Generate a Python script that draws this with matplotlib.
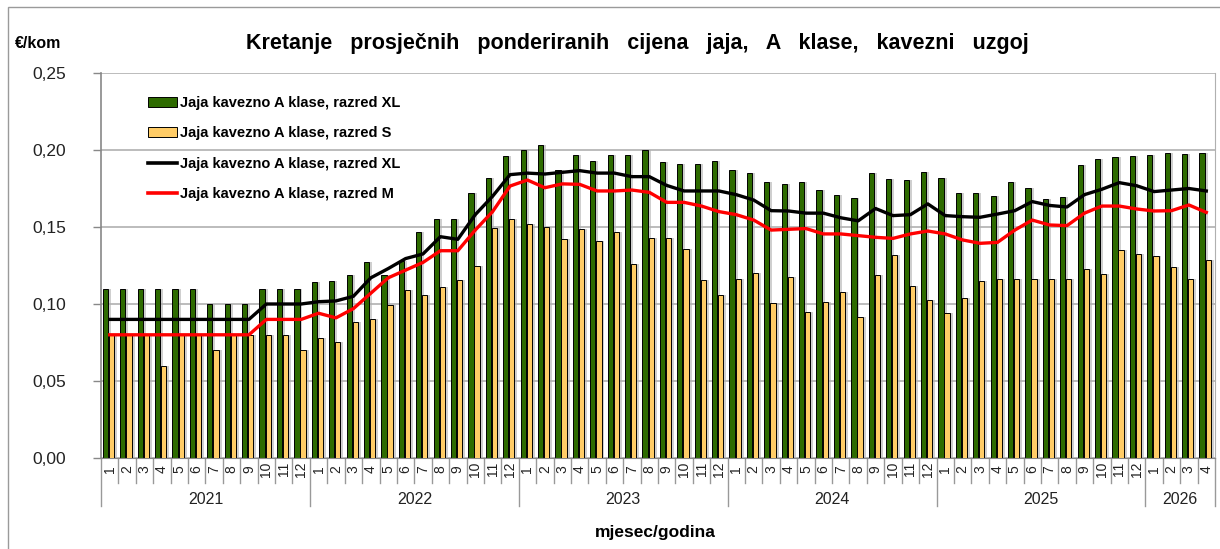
import matplotlib
matplotlib.use("Agg")
import matplotlib.pyplot as plt
from matplotlib.patches import Patch, Rectangle
from matplotlib.lines import Line2D
from matplotlib.ticker import FuncFormatter, MultipleLocator
import matplotlib.transforms as mtransforms
import numpy as np

plt.rcParams['font.family'] = ['Liberation Sans', 'DejaVu Sans']

years = ["2021", "2022", "2023", "2024", "2025", "2026"]
months_per_year = [12, 12, 12, 12, 12, 4]

xl_bars = [0.11, 0.11, 0.11, 0.11, 0.11, 0.11, 0.10, 0.10, 0.10, 0.11, 0.11, 0.11,
           0.1145, 0.115, 0.119, 0.1275, 0.119, 0.128, 0.147, 0.155, 0.155, 0.172, 0.182, 0.196,
           0.200, 0.203, 0.187, 0.197, 0.193, 0.197, 0.197, 0.200, 0.192, 0.191, 0.191, 0.193,
           0.187, 0.185, 0.179, 0.178, 0.179, 0.174, 0.171, 0.169, 0.185, 0.181, 0.1805, 0.1855,
           0.182, 0.172, 0.172, 0.170, 0.179, 0.1755, 0.168, 0.1695, 0.1905, 0.1944, 0.1952, 0.1963,
           0.1968, 0.198, 0.1974, 0.198]

s_bars = [0.08, 0.08, 0.08, 0.06, 0.08, 0.08, 0.07, 0.08, 0.08, 0.08, 0.08, 0.07,
          0.078, 0.0755, 0.088, 0.0905, 0.0995, 0.109, 0.106, 0.111, 0.1156, 0.125, 0.1496, 0.155,
          0.152, 0.150, 0.142, 0.1485, 0.141, 0.147, 0.126, 0.143, 0.1426, 0.136, 0.1156, 0.106,
          0.116, 0.1203, 0.1004, 0.1173, 0.095, 0.101, 0.108, 0.0913, 0.1188, 0.1316, 0.112, 0.1028,
          0.094, 0.1037, 0.115, 0.1165, 0.1165, 0.116, 0.116, 0.116, 0.1225, 0.1195, 0.135, 0.1327,
          0.131, 0.124, 0.116, 0.1288]

xl_line = [0.09, 0.09, 0.09, 0.09, 0.09, 0.09, 0.09, 0.09, 0.09, 0.10, 0.10, 0.10,
           0.1015, 0.102, 0.105, 0.117, 0.123, 0.1295, 0.1325, 0.1437, 0.142, 0.158, 0.170, 0.184,
           0.185, 0.1844, 0.1855, 0.1866, 0.185, 0.185, 0.1827, 0.1827, 0.177, 0.1734, 0.1734, 0.1734,
           0.171, 0.1675, 0.1606, 0.1604, 0.159, 0.159, 0.156, 0.154, 0.162, 0.1574, 0.158, 0.165,
           0.1574, 0.1567, 0.1563, 0.1584, 0.1606, 0.1665, 0.164, 0.163, 0.171, 0.1745, 0.1788, 0.1768,
           0.173, 0.174, 0.175, 0.1734]

m_line = [0.08, 0.08, 0.08, 0.08, 0.08, 0.08, 0.08, 0.08, 0.08, 0.09, 0.09, 0.09,
          0.094, 0.091, 0.097, 0.107, 0.117, 0.122, 0.127, 0.1346, 0.1346, 0.148, 0.160, 0.1766,
          0.1805, 0.1755, 0.178, 0.1777, 0.1734, 0.1734, 0.174, 0.1725, 0.166, 0.166, 0.1636, 0.160,
          0.158, 0.1545, 0.148, 0.1485, 0.149, 0.1455, 0.1455, 0.1444, 0.1433, 0.1426, 0.1455, 0.1474,
          0.1455, 0.1416, 0.1394, 0.140, 0.148, 0.1545, 0.1513, 0.1509, 0.159, 0.1636, 0.1636, 0.1617,
          0.1604, 0.1606, 0.1643, 0.1595]

legend_labels = ["Jaja kavezno A klase, razred XL", "Jaja kavezno A klase, razred S",
                 "Jaja kavezno A klase, razred XL", "Jaja kavezno A klase, razred M"]

GREEN = "#2e6b00"
YELLOW = "#ffcc66"

W, H = 1220, 549
fig = plt.figure(figsize=(W / 100, H / 100), dpi=100)
fig.patch.set_facecolor("white")

# outer frame
fig.patches.append(Rectangle((8 / W, -0.1), 1.2, 1.1 - 7 / H, transform=fig.transFigure,
                             fill=False, edgecolor="#9a9a9a", linewidth=1.0))

ax = fig.add_axes([101 / W, 1 - 458 / H, (1215 - 101) / W, (458 - 73) / H])
ax.set_facecolor("white")

month_labels = []
for n in months_per_year:
    month_labels += [str(i + 1) for i in range(n)]
n_total = len(month_labels)
x = np.arange(n_total) + 0.5

gw = 0.30
gx = x - 0.245
yx = x + 0.105
# shadows
ax.bar(gx + 0.17, xl_bars, width=gw, color="#b0b0b0", alpha=0.6, linewidth=0, zorder=1)
ax.bar(yx + 0.17, s_bars, width=gw, color="#b0b0b0", alpha=0.6, linewidth=0, zorder=1)
ax.bar(gx, xl_bars, width=gw, color=GREEN, edgecolor="black", linewidth=0.7, zorder=2)
ax.bar(yx, s_bars, width=gw, color=YELLOW, edgecolor="black", linewidth=0.7, zorder=3)
ax.plot(x, xl_line, color="black", linewidth=2.4, zorder=5, solid_joinstyle="round")
ax.plot(x, m_line, color="#ff0000", linewidth=2.4, zorder=6, solid_joinstyle="round")

ax.set_xlim(0, n_total)
ax.set_ylim(0, 0.25)
ax.yaxis.set_major_locator(MultipleLocator(0.05))
ax.yaxis.set_major_formatter(FuncFormatter(lambda v, p: f"{v:.2f}".replace(".", ",")))
ax.grid(axis="y", color="#b0b0b0", linewidth=1.2, zorder=0)
ax.set_axisbelow(True)
ax.set_xticks([])
ax.tick_params(axis="y", direction="out", length=6, width=1, color="#888888",
               labelsize=12.5, pad=19, labelcolor="#222222")
ax.spines["top"].set_visible(False)
ax.spines["left"].set_color("#888888")
ax.spines["bottom"].set_color("#888888")
ax.spines["right"].set_color("#b0b0b0")
ax.spines["left"].set_linewidth(1.2)

# month / year category axis
trans = mtransforms.blended_transform_factory(ax.transData, ax.transAxes)
ah = 458 - 73
for i, lab in enumerate(month_labels):
    ax.text(x[i], -11 / ah, lab, rotation=90, ha="center", va="center", fontsize=10,
            color="#222222", transform=trans)
bounds = np.cumsum([0] + months_per_year)
for b in range(n_total + 1):
    ybot = -48 / ah if b in bounds else -25 / ah
    ax.plot([b, b], [0, ybot], color="#999999", linewidth=1.0, transform=trans, clip_on=False)
for k, yr in enumerate(years):
    cx = (bounds[k] + bounds[k + 1]) / 2
    ax.text(cx, -42 / ah, yr, ha="center", va="center", fontsize=11.5, color="#222222",
            transform=trans)

fig.text(655 / W, 1 - 532 / H, "mjesec/godina", ha="center", va="center", fontsize=12.5,
         fontweight="bold")
fig.text(15 / W, 1 - 43 / H, "€/kom", ha="left", va="center", fontsize=11.5, fontweight="bold")
fig.text(637 / W, 1 - 43 / H,
         "Kretanje   prosječnih   ponderiranih   cijena   jaja,   A   klase,   kavezni   uzgoj",
         ha="center", va="center", fontsize=15.5, fontweight="bold")

handles = [Patch(facecolor=GREEN, edgecolor="black", linewidth=0.7),
           Patch(facecolor=YELLOW, edgecolor="black", linewidth=0.7),
           Line2D([], [], color="black", linewidth=2.6),
           Line2D([], [], color="#ff0000", linewidth=2.6)]
ax.legend(handles, legend_labels, loc="upper left",
          bbox_to_anchor=((148 - 101) / (1215 - 101), (458 - 96) / ah),
          frameon=False, prop={"weight": "bold", "size": 10.5},
          handlelength=2.0, handletextpad=0.2, labelspacing=1.12, borderpad=0,
          borderaxespad=0)

fig.savefig("out.png", dpi=100)
